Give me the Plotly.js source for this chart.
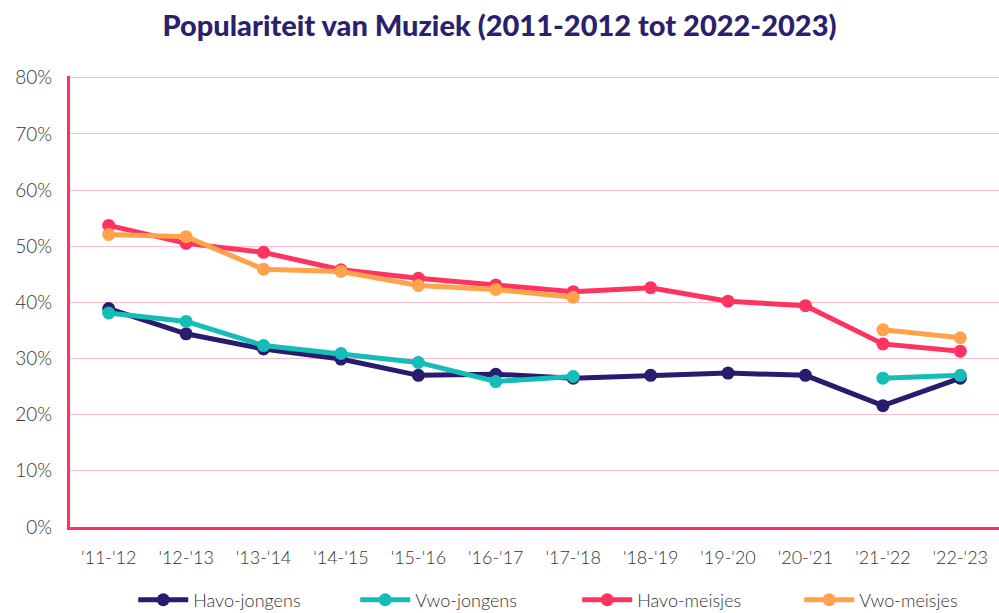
<!DOCTYPE html>
<html>
<head>
<meta charset="utf-8">
<script src="https://cdn.plot.ly/plotly-3.0.1.min.js"></script>
<style>html,body{margin:0;padding:0;background:#fff}#chart{width:999px;height:613px}</style>
</head>
<body>
<div id="chart"></div>
<script>
const categories = ["'11-'12","'12-'13","'13-'14","'14-'15","'15-'16","'16-'17","'17-'18","'18-'19","'19-'20","'20-'21","'21-'22","'22-'23"];
const havoJongens = [38.9, 34.4, 31.7, 29.9, 27.0, 27.2, 26.5, 27.0, 27.4, 27.0, 21.6, 26.5];
const vwoJongens  = [38.1, 36.6, 32.3, 30.9, 29.3, 25.9, 26.8, null, null, null, 26.5, 27.0];
const havoMeisjes = [53.7, 50.5, 48.9, 45.8, 44.3, 43.1, 41.9, 42.6, 40.2, 39.4, 32.6, 31.3];
const vwoMeisjes  = [52.1, 51.7, 45.9, 45.5, 43.0, 42.3, 40.9, null, null, null, 35.1, 33.7];
const seriesNames = ["Havo-jongens","Vwo-jongens","Havo-meisjes","Vwo-meisjes"];
const seriesColors = ["#2b1b6e","#14bdb5","#ff3360","#ffa34a"];
const seriesData = [havoJongens, vwoJongens, havoMeisjes, vwoMeisjes];

const traces = seriesData.map((d, i) => ({
  x: categories, y: d, name: seriesNames[i], type: 'scatter', mode: 'lines+markers',
  connectgaps: false,
  line: {color: seriesColors[i], width: 5},
  marker: {color: seriesColors[i], size: 13}
}));

const layout = {
  width: 999, height: 613,
  margin: {l: 70, r: 0, t: 76, b: 86, autoexpand: false},
  paper_bgcolor: '#fff', plot_bgcolor: '#fff',
  font: {family: 'Lato, sans-serif', color: '#333'},
  title: {text: 'Populariteit van Muziek (2011-2012 tot 2022-2023)', x: 0.5, xanchor: 'center', y: 0.958, yanchor: 'middle', font: {size: 29, weight: 900, color: '#2b1f6e', family: 'Lato, sans-serif'}},
  xaxis: {type: 'category', range: [-0.5, 11.5], showgrid: false, showline: true, linecolor: '#ff3360', linewidth: 3, ticks: '', tickfont: {size: 18, weight: 300, color: '#333'}, ticklabelstandoff: 12, zeroline: false},
  yaxis: {range: [0, 80.3], tickvals: [0,10,20,30,40,50,60,70,80], ticktext: ['0%','10%','20%','30%','40%','50%','60%','70%','80%'], showgrid: true, gridcolor: '#ffbfca', gridwidth: 1, showline: true, linecolor: '#ff3360', linewidth: 3, ticks: '', tickfont: {size: 19, weight: 300, color: '#333'}, ticklabelstandoff: 11, zeroline: false},
  showlegend: true,
  legend: {orientation: 'h', x: 0.546, xanchor: 'center', y: -0.162, yanchor: 'middle', font: {size: 18, weight: 300, color: '#333'}, entrywidth: 157, itemwidth: 50}
};

Plotly.newPlot('chart', traces, layout, {displayModeBar: false, staticPlot: true});
</script>
</body>
</html>
